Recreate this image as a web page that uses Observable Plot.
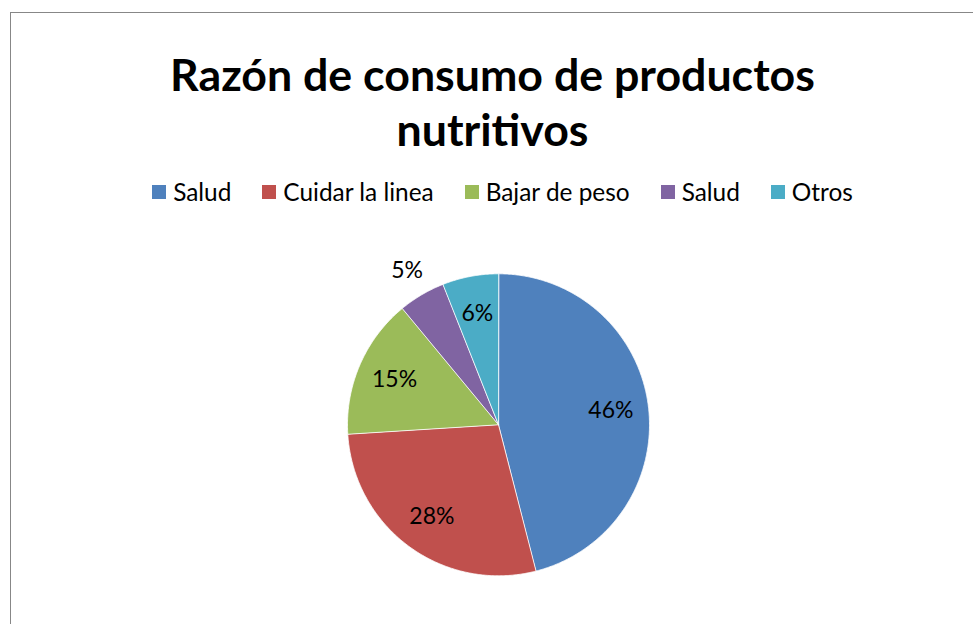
<!DOCTYPE html>
<html>
<head>
<meta charset="utf-8">
<script src="https://cdn.jsdelivr.net/npm/d3@7"></script>
<script src="https://cdn.jsdelivr.net/npm/@observablehq/plot@0.6"></script>
<style>
  html, body { margin: 0; padding: 0; background: #fff; overflow: hidden; }
  body { width: 973px; height: 624px; position: relative; font-family: Lato, "Open Sans", sans-serif; color: #000; }
  #frame { position: absolute; left: 10px; top: 12px; width: 1000px; height: 700px; border: 1px solid #878787; box-sizing: border-box; }
  #title { position: absolute; left: 10px; width: 965px; top: 46.9px; text-align: center; font-weight: 700; font-size: 44.7px; line-height: 55px; }
  #legend { position: absolute; left: 0; width: 1005px; top: 176.8px; display: flex; justify-content: center; align-items: center; font-size: 24.4px; }
  .item { display: flex; align-items: center; margin: 0 15.5px; }
  .sw { width: 14px; height: 14px; margin-right: 7px; position: relative; top: 1px; }
  #chart { position: absolute; left: 0; top: 230px; }
</style>
</head>
<body>
<div id="frame"></div>
<div id="title">Razón de consumo de productos<br>nutritivos</div>
<div id="legend"></div>
<div id="chart"></div>
<script>
const titleText = "Razón de consumo de productos nutritivos";
const categories = ["Salud", "Cuidar la linea", "Bajar de peso", "Salud", "Otros"];
const values = [46, 28, 15, 5, 6];
const colors = ["#4F81BD", "#C0504D", "#9BBB59", "#8064A2", "#4BACC6"];

// Legend
const legend = document.getElementById("legend");
categories.forEach((c, i) => {
  const it = document.createElement("div");
  it.className = "item";
  const sw = document.createElement("div");
  sw.className = "sw";
  sw.style.background = colors[i];
  const t = document.createElement("span");
  t.textContent = c;
  it.appendChild(sw); it.appendChild(t);
  legend.appendChild(it);
});

// Pie geometry from data
const total = d3.sum(values);
const arcs = d3.pie().sort(null).startAngle(0).endAngle(2 * Math.PI)(values);
const poly = [];
arcs.forEach((a, i) => {
  poly.push({key: i, x: 0, y: 0});
  const n = Math.max(2, Math.ceil((a.endAngle - a.startAngle) / (Math.PI / 360)));
  for (let k = 0; k <= n; k++) {
    const ang = a.startAngle + (a.endAngle - a.startAngle) * k / n;
    poly.push({key: i, x: Math.sin(ang), y: Math.cos(ang)});
  }
});
const labels = arcs.map((a, i) => {
  const mid = (a.startAngle + a.endAngle) / 2;
  const share = values[i] / total;
  const r = share < 0.055 ? 1.19 : 0.75;
  return {key: i, x: Math.sin(mid) * r, y: Math.cos(mid) * r, text: Math.round(share * 100) + "%"};
});

const cx = 498, cy = 194.3, R = 151;
const plot = Plot.plot({
  width: 973,
  height: 394,
  margin: 0,
  style: {background: "transparent", fontFamily: "Lato, 'Open Sans', sans-serif"},
  x: {domain: [-1, 1], range: [cx - R, cx + R], axis: null},
  y: {domain: [-1, 1], range: [cy + R, cy - R], axis: null},
  color: {domain: d3.range(values.length), range: colors},
  marks: [
    Plot.line(poly, {x: "x", y: "y", z: "key", fill: "key", stroke: "white", strokeWidth: 1, strokeOpacity: 0.8, curve: "linear-closed"}),
    Plot.text(labels, {x: "x", y: "y", text: "text", fontSize: 23, fill: "#000"})
  ]
});
document.getElementById("chart").appendChild(plot);
</script>
</body>
</html>
